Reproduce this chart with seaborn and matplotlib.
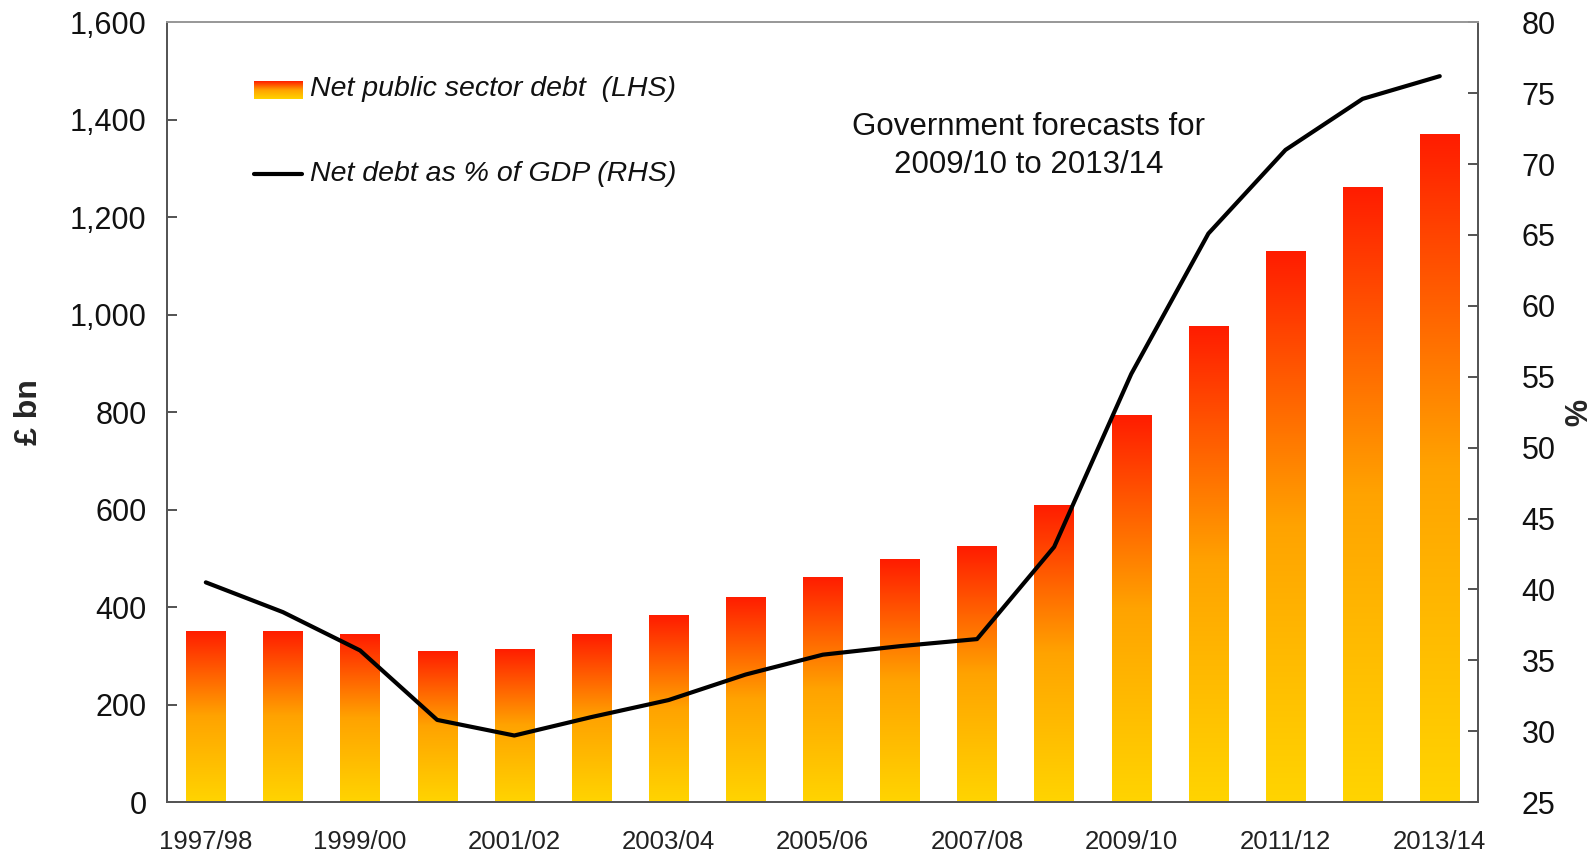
import numpy as np
import pandas as pd
import seaborn as sns
import matplotlib
matplotlib.use("Agg")
import matplotlib.pyplot as plt
from matplotlib.colors import LinearSegmentedColormap

# datos
years = ['1997/98', '1998/99', '1999/00', '2000/01', '2001/02', '2002/03', '2003/04',
         '2004/05', '2005/06', '2006/07', '2007/08', '2008/09', '2009/10', '2010/11',
         '2011/12', '2012/13', '2013/14']
debt_bn = [352, 352, 344, 310, 315, 344, 383, 421, 462, 498, 525, 610, 794, 977,
           1131, 1262, 1371]
debt_pct_gdp = [40.5, 38.4, 35.7, 30.8, 29.7, 31.0, 32.2, 34.0, 35.4, 36.0, 36.5,
                43.0, 55.2, 65.1, 71.0, 74.6, 76.2]
left_ticks = [0, 200, 400, 600, 800, 1000, 1200, 1400, 1600]
right_ticks = [25, 30, 35, 40, 45, 50, 55, 60, 65, 70, 75, 80]

df = pd.DataFrame({'year': years, 'debt': debt_bn, 'pct': debt_pct_gdp})

sns.set_style('white')
plt.rcParams['font.family'] = ['Liberation Sans', 'DejaVu Sans']

cmap = LinearSegmentedColormap.from_list('debt', ['#ffd400', '#ffa300', '#ff1c00'])
grad = np.linspace(0, 1, 256).reshape(-1, 1)

fig = plt.figure(figsize=(15.93, 8.57), dpi=100)
ax = fig.add_axes([0.105, 0.064, 0.823, 0.910])

sns.barplot(data=df, x='year', y='debt', color='#ff8800', width=0.51, ax=ax, zorder=2)

# degradado amarillo -> rojo en cada barra
for p in ax.patches:
    x0, w, h = p.get_x(), p.get_width(), p.get_height()
    im = ax.imshow(grad, extent=[x0, x0 + w, 0, h], origin='lower', aspect='auto',
                   cmap=cmap, zorder=2)
    im.set_clip_path(p)
    p.set_facecolor('none')
    p.set_edgecolor('none')

ax.set_xlim(-0.5, len(years) - 0.5)
ax.set_ylim(0, 1600)
ax.set_yticks(left_ticks)
ax.set_yticklabels([f'{v:,}' for v in left_ticks], fontsize=22, color='#111111')
ax.set_xticks(range(0, len(years), 2))
ax.set_xticklabels(years[::2], fontsize=18.5, color='#222222')
ax.set_xticks(np.arange(-0.5, len(years), 1), minor=True)
ax.tick_params(axis='x', which='major', length=0, pad=20)
ax.tick_params(axis='x', which='minor', length=10, width=1.3, direction='out', color='#444444')
ax.tick_params(axis='y', length=7, width=1.3, direction='in', color='#444444', pad=15)
ax.set_xlabel('')
ax.set_ylabel('£ bn', fontsize=23, fontweight='bold')
ax.yaxis.set_label_coords(-0.094, 0.5)

ax2 = ax.twinx()
sns.lineplot(x=np.arange(len(years)), y=df['pct'], color='black', linewidth=3, ax=ax2)
ax2.set_ylim(25, 80)
ax2.set_yticks(right_ticks)
ax2.set_yticklabels([str(v) for v in right_ticks], fontsize=22, color='#111111')
ax2.tick_params(axis='y', length=7, width=1.3, direction='in', color='#444444', pad=31)
ax2.set_ylabel('%', fontsize=22, fontweight='bold', rotation=270)
ax2.yaxis.set_label_coords(1.082, 0.5)
ax2.set_xlim(-0.5, len(years) - 0.5)

for a in (ax, ax2):
    for s in a.spines.values():
        s.set_color('#555555')
        s.set_linewidth(1.3)
    a.spines['top'].set_color('#999999')

# leyenda manual
leg_ax = ax.inset_axes([0.066, 0.902, 0.037, 0.023])
leg_ax.imshow(grad, origin='lower', aspect='auto', cmap=cmap)
leg_ax.axis('off')
ax.text(0.109, 0.914, 'Net public sector debt  (LHS)', transform=ax.transAxes,
        fontsize=20.5, style='italic', va='center', ha='left', color='#111111')
ax2.plot([0.066, 0.103], [0.805, 0.805], transform=ax2.transAxes, color='black', linewidth=3)
ax2.text(0.109, 0.805, 'Net debt as % of GDP (RHS)', transform=ax2.transAxes,
         fontsize=20.5, style='italic', va='center', ha='left', color='#111111')

ax2.text(0.657, 0.841, 'Government forecasts for\n2009/10 to 2013/14', transform=ax2.transAxes,
         fontsize=22.5, ha='center', va='center', linespacing=1.35, color='#111111')

fig.savefig('out.png', dpi=100)
